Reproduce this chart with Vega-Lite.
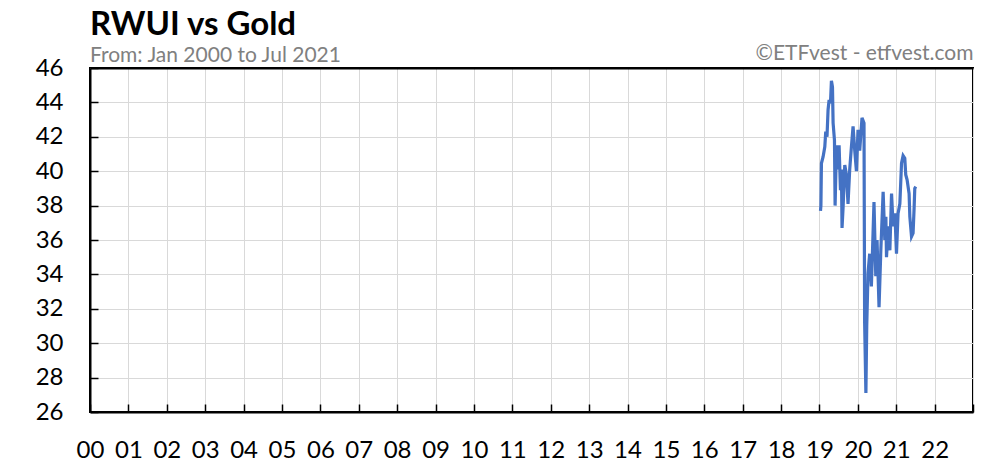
{
  "$schema": "https://vega.github.io/schema/vega-lite/v6.json",
  "autosize": "none",
  "width": 883,
  "height": 344,
  "padding": {"left": 90, "top": 68, "right": 17, "bottom": 53},
  "background": "white",
  "config": {
    "font": "Lato",
    "view": {"stroke": "black", "strokeWidth": 2},
    "axis": {"labelFont": "Lato", "titleFont": "Lato"},
    "axisY": {
      "labelOverlap": false,
      "labelFontSize": 24,
      "labelColor": "black",
      "labelPadding": 35,
      "labelFlush": false,
      "tickSize": -8,
      "tickColor": "black",
      "tickWidth": 1.5,
      "domainColor": "black",
      "domainWidth": 2,
      "gridColor": "#d9d9d9",
      "gridWidth": 1
    }
  },
  "title": {
    "text": "RWUI vs Gold",
    "subtitle": "From: Jan 2000 to Jul 2021",
    "anchor": "start",
    "frame": "group",
    "font": "Lato",
    "fontSize": 33,
    "fontWeight": "bold",
    "color": "black",
    "subtitleFont": "Lato",
    "subtitleFontSize": 21,
    "subtitleColor": "#808080",
    "subtitlePadding": 3,
    "offset": -24
  },
  "data": {
    "values": [
      {"date": "2019-01-11", "price": 37.7},
      {"date": "2019-01-15", "price": 38.0},
      {"date": "2019-01-20", "price": 40.46},
      {"date": "2019-02-05", "price": 40.84},
      {"date": "2019-02-21", "price": 41.42},
      {"date": "2019-03-02", "price": 42.3},
      {"date": "2019-03-14", "price": 42.0},
      {"date": "2019-03-24", "price": 43.56},
      {"date": "2019-04-03", "price": 44.14},
      {"date": "2019-04-16", "price": 43.95},
      {"date": "2019-04-25", "price": 45.26},
      {"date": "2019-05-05", "price": 44.9},
      {"date": "2019-05-11", "price": 42.8},
      {"date": "2019-05-24", "price": 41.8},
      {"date": "2019-05-30", "price": 38.0},
      {"date": "2019-06-12", "price": 41.5},
      {"date": "2019-06-27", "price": 40.1},
      {"date": "2019-07-07", "price": 41.5},
      {"date": "2019-07-20", "price": 38.9},
      {"date": "2019-07-29", "price": 40.1},
      {"date": "2019-08-04", "price": 36.7},
      {"date": "2019-08-14", "price": 37.9},
      {"date": "2019-08-30", "price": 40.36},
      {"date": "2019-09-15", "price": 39.8},
      {"date": "2019-09-30", "price": 38.1},
      {"date": "2019-10-16", "price": 40.1},
      {"date": "2019-11-01", "price": 41.4},
      {"date": "2019-11-17", "price": 42.6},
      {"date": "2019-12-03", "price": 41.2},
      {"date": "2019-12-19", "price": 40.0},
      {"date": "2020-01-03", "price": 42.4},
      {"date": "2020-01-19", "price": 41.2},
      {"date": "2020-02-10", "price": 43.1},
      {"date": "2020-02-29", "price": 42.8},
      {"date": "2020-03-06", "price": 31.2},
      {"date": "2020-03-18", "price": 27.1},
      {"date": "2020-03-26", "price": 31.0},
      {"date": "2020-04-07", "price": 34.06},
      {"date": "2020-04-23", "price": 35.2},
      {"date": "2020-05-09", "price": 33.3},
      {"date": "2020-05-19", "price": 35.2},
      {"date": "2020-06-03", "price": 38.2},
      {"date": "2020-06-20", "price": 33.9},
      {"date": "2020-07-02", "price": 36.0},
      {"date": "2020-07-21", "price": 32.1},
      {"date": "2020-08-07", "price": 35.4},
      {"date": "2020-08-29", "price": 38.8},
      {"date": "2020-09-14", "price": 36.0},
      {"date": "2020-09-24", "price": 37.35},
      {"date": "2020-09-30", "price": 35.0},
      {"date": "2020-10-16", "price": 36.8},
      {"date": "2020-11-01", "price": 35.4},
      {"date": "2020-11-17", "price": 38.7},
      {"date": "2020-12-02", "price": 36.8},
      {"date": "2020-12-19", "price": 37.55},
      {"date": "2021-01-03", "price": 35.2},
      {"date": "2021-01-18", "price": 37.55},
      {"date": "2021-02-04", "price": 38.1},
      {"date": "2021-02-20", "price": 40.46},
      {"date": "2021-03-07", "price": 40.9},
      {"date": "2021-03-23", "price": 40.75},
      {"date": "2021-04-01", "price": 39.8},
      {"date": "2021-04-14", "price": 39.5},
      {"date": "2021-05-03", "price": 38.7},
      {"date": "2021-05-10", "price": 37.35},
      {"date": "2021-05-26", "price": 36.2},
      {"date": "2021-06-10", "price": 36.4},
      {"date": "2021-06-20", "price": 37.9},
      {"date": "2021-06-26", "price": 39.0},
      {"date": "2021-07-06", "price": 39.1}
    ]
  },
  "layer": [
    {
      "mark": {"type": "line", "color": "#4472C4", "strokeWidth": 3.2, "clip": true},
      "encoding": {
        "x": {
          "field": "date",
          "type": "temporal",
          "scale": {"domain": ["2000-01-01", "2023-01-01"]},
          "axis": {
            "orient": "bottom",
            "title": null,
            "format": "%y",
            "tickCount": {"interval": "year", "step": 1},
            "labelExpr": "year(datum.value) > 2022 ? '' : datum.label",
            "labelFontSize": 24,
            "labelColor": "black",
            "labelPadding": 34,
            "labelFlush": false,
            "labelOverlap": false,
            "tickSize": -8,
            "tickColor": "black",
            "tickWidth": 1.5,
            "domainColor": "black",
            "domainWidth": 2,
            "grid": true,
            "gridColor": "#d9d9d9",
            "gridWidth": 1
          }
        },
        "y": {
          "field": "price",
          "type": "quantitative",
          "scale": {"domain": [26, 46], "nice": false, "zero": false},
          "axis": {
            "title": null,
            "values": [26, 28, 30, 32, 34, 36, 38, 40, 42, 44, 46],
            "grid": true
          }
        }
      }
    },
    {
      "mark": {"type": "line", "opacity": 0},
      "encoding": {
        "x": {
          "field": "date",
          "type": "temporal",
          "axis": {
            "orient": "top",
            "title": "©ETFvest - etfvest.com",
            "titleAnchor": "end",
            "titleFont": "Lato",
            "titleFontSize": 21,
            "titleFontWeight": "normal",
            "titleColor": "#808080",
            "titlePadding": 5,
            "labels": false,
            "ticks": false,
            "grid": false,
            "domainColor": "black",
            "domainWidth": 2
          }
        },
        "y": {
          "field": "price",
          "type": "quantitative",
          "axis": {
            "title": null,
            "values": [26, 28, 30, 32, 34, 36, 38, 40, 42, 44, 46],
            "grid": true
          }
        }
      }
    }
  ],
  "resolve": {"axis": {"x": "independent"}}
}
